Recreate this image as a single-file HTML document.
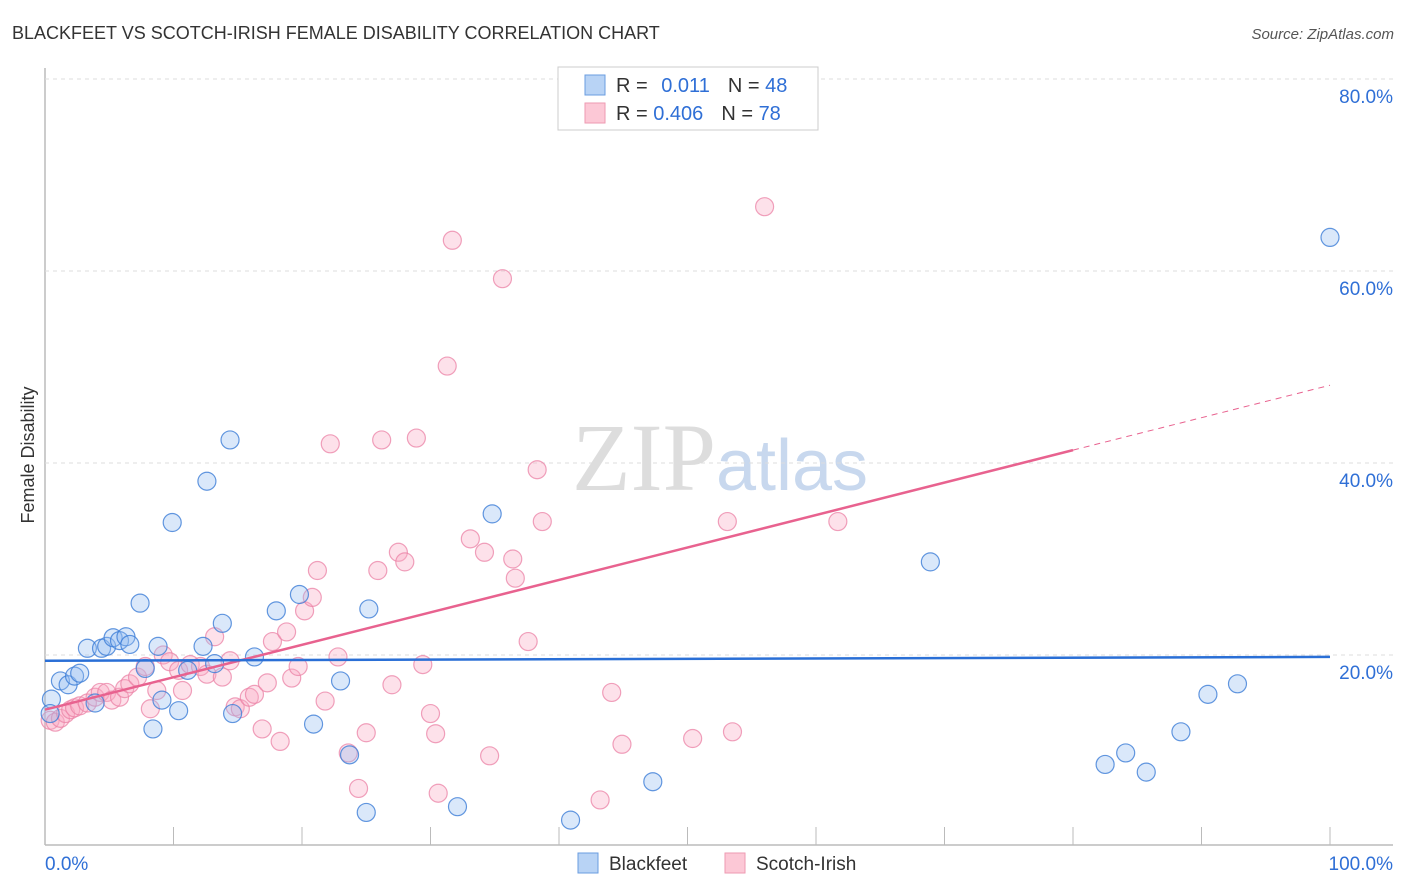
<!DOCTYPE html>
<html><head><meta charset="utf-8">
<style>
body{margin:0;background:#fff;font-family:"Liberation Sans",sans-serif;}
svg{display:block}
</style></head>
<body>
<svg id="chart" width="1406" height="892" xmlns="http://www.w3.org/2000/svg">
<text x="12" y="39" font-size="18" fill="#333">BLACKFEET VS SCOTCH-IRISH FEMALE DISABILITY CORRELATION CHART</text>
<text x="1394" y="39" font-size="15" fill="#555" text-anchor="end" font-style="italic">Source: ZipAtlas.com</text>
<text x="720" y="490" font-size="96" text-anchor="middle" fill="#ddd" font-family="Liberation Serif">ZIP<tspan fill="#c8d8ee" font-family="Liberation Sans" font-size="72">atlas</tspan></text>
<text transform="translate(34,455) rotate(-90)" font-size="18" fill="#333" text-anchor="middle">Female Disability</text>
<g id="grid"></g>
<g id="pts"></g>
<g id="lines"></g>
<g>
<rect x="558" y="67" width="260" height="63" fill="#fff" stroke="#ccc"/>
<rect x="585" y="75" width="20" height="20" fill="#b8d3f5" stroke="#6a9de0"/>
<rect x="585" y="103" width="20" height="20" fill="#fcc8d6" stroke="#ee9ab2"/>
<text x="616" y="92" font-size="20" fill="#333">R = <tspan fill="#2f6fd6" dx="8">0.011</tspan><tspan dx="18">N = </tspan><tspan fill="#2f6fd6">48</tspan></text>
<text x="616" y="120" font-size="20" fill="#333">R = <tspan fill="#2f6fd6">0.406</tspan><tspan dx="18">N = </tspan><tspan fill="#2f6fd6">78</tspan></text>
</g>
<g>
<rect x="578" y="853" width="20" height="20" fill="#b8d3f5" stroke="#6a9de0"/>
<text x="609" y="870" font-size="19" fill="#333">Blackfeet</text>
<rect x="725" y="853" width="20" height="20" fill="#fcc8d6" stroke="#ee9ab2"/>
<text x="756" y="870" font-size="19" fill="#333">Scotch-Irish</text>
</g>
</svg>
<script>
const yTicks=[20,40,60,80];
const yTickLabels=["20.0%","40.0%","60.0%","80.0%"];
const xTicks=[0,10,20,30,40,50,60,70,80,90,100];
const xTickLabels=["0.0%","100.0%"];
const blackfeetX=[0.5,1.2,1.8,2.3,2.7,3.3,4.4,4.8,5.3,5.8,6.3,6.6,7.4,7.8,8.4,8.8,9.1,9.9,10.4,11.1,12.3,12.6,13.2,13.8,14.4,14.6,16.3,18.0,19.8,20.9,23.0,23.7,25.0,25.2,32.1,34.8,40.9,47.3,68.9,82.5,84.1,85.7,88.4,90.5,92.8,100,0.4,3.9];
const blackfeetY=[15.4,17.3,16.9,17.8,18.1,20.7,20.7,20.9,21.8,21.5,21.9,21.1,25.4,18.6,12.3,20.9,15.3,33.8,14.2,18.4,20.9,38.1,19.1,23.3,42.4,13.9,19.8,24.6,26.3,12.8,17.3,9.6,3.6,24.8,4.2,34.7,2.8,6.8,29.7,8.6,9.8,7.8,12.0,15.9,17.0,63.5,13.9,15.0];
const scotchX=[0.4,0.8,1.2,1.6,2.0,2.3,2.7,3.3,3.9,4.3,4.8,5.2,5.8,6.2,6.6,7.2,7.8,8.2,8.7,9.2,9.7,10.4,10.7,11.3,12.1,12.6,13.2,13.8,14.4,14.8,15.2,15.9,16.3,16.9,17.3,17.7,18.3,18.8,19.2,19.7,20.2,20.8,21.2,21.8,22.2,22.8,23.6,24.4,25.0,25.9,26.2,27.0,27.5,28.0,28.9,30.0,30.4,30.6,31.3,31.7,33.1,34.2,34.6,35.6,36.4,36.6,37.6,38.3,38.7,43.2,44.1,44.9,50.4,53.1,53.5,56.0,61.7,29.4];
const scotchY=[13.2,13.0,13.4,13.9,14.3,14.5,14.7,15.0,15.6,16.1,16.1,15.3,15.6,16.5,17.0,17.7,18.8,14.4,16.3,20.0,19.3,18.4,16.3,19.0,18.8,18.0,21.9,17.7,19.4,14.6,14.4,15.6,15.9,12.3,17.1,21.4,11.0,22.4,17.6,18.8,24.6,26.0,28.8,15.2,42.0,19.8,9.8,6.1,11.9,28.8,42.4,16.9,30.7,29.7,42.6,13.9,11.8,5.6,50.1,63.2,32.1,30.7,9.5,59.2,30.0,28.0,21.4,39.3,33.9,4.9,16.1,10.7,11.3,33.9,12.0,66.7,33.9,19.0];
const blueLine=[19.4,19.8];
const pinkLine=[14.3,48.1];
const pinkSolidEnd=80;

const X=v=>45+v*12.85, Y=v=>847-v*9.6;
const NS='http://www.w3.org/2000/svg';
function mk(tag,attrs,parent){const e=document.createElementNS(NS,tag);for(const k in attrs)e.setAttribute(k,attrs[k]);parent.appendChild(e);return e;}
const grid=document.getElementById('grid'),pts=document.getElementById('pts'),lines=document.getElementById('lines');
let e;
e=mk('line',{x1:45,y1:68,x2:45,y2:845,stroke:'#bbb','stroke-width':1.5},grid);


e=mk('line',{x1:45,y1:845,x2:1393,y2:845,stroke:'#bbb','stroke-width':1.5},grid);


e=mk('line',{x1:45,y1:Y(80),x2:1393,y2:Y(80),stroke:'#ddd','stroke-dasharray':'4,4'},grid);
yTicks.forEach((t,i)=>{
  e=mk('line',{x1:45,y1:Y(t),x2:1393,y2:Y(t),stroke:'#ddd','stroke-dasharray':'4,4'},grid);
  
  
  e=mk('text',{x:1393,y:Y(t)+24,'font-size':19,fill:'#2f6fd6','text-anchor':'end'},grid);
  e.textContent=yTickLabels[i];
  
  
});
xTicks.forEach(t=>{
  e=mk('line',{x1:X(t),y1:827,x2:X(t),y2:845,stroke:'#bbb'},grid);
  
  
});
e=mk('text',{x:45,y:870,'font-size':19,fill:'#2f6fd6'},grid);e.textContent=xTickLabels[0];


e=mk('text',{x:1393,y:870,'font-size':19,fill:'#2f6fd6','text-anchor':'end'},grid);e.textContent=xTickLabels[1];


scotchX.forEach((v,i)=>{
  e=mk('circle',{cx:X(v),cy:Y(scotchY[i]),r:9,fill:'rgba(248,170,195,0.35)',stroke:'rgba(235,130,165,0.75)','stroke-width':1.2},pts);
  
  
});
blackfeetX.forEach((v,i)=>{
  e=mk('circle',{cx:X(v),cy:Y(blackfeetY[i]),r:9,fill:'rgba(150,190,240,0.35)',stroke:'rgba(60,125,215,0.8)','stroke-width':1.2},pts);
  
  
});
const py=x=>pinkLine[0]+(pinkLine[1]-pinkLine[0])*x/100;
e=mk('line',{x1:X(0),y1:Y(py(0)),x2:X(pinkSolidEnd),y2:Y(py(pinkSolidEnd)),stroke:'#e8628f','stroke-width':2.5},lines);


e=mk('line',{x1:X(pinkSolidEnd),y1:Y(py(pinkSolidEnd)),x2:X(100),y2:Y(py(100)),stroke:'#e8628f','stroke-width':1,'stroke-dasharray':'6,5'},lines);


e=mk('line',{x1:X(0),y1:Y(blueLine[0]),x2:X(100),y2:Y(blueLine[1]),stroke:'#2a6fd6','stroke-width':2.5},lines);


</script>
</body></html>
